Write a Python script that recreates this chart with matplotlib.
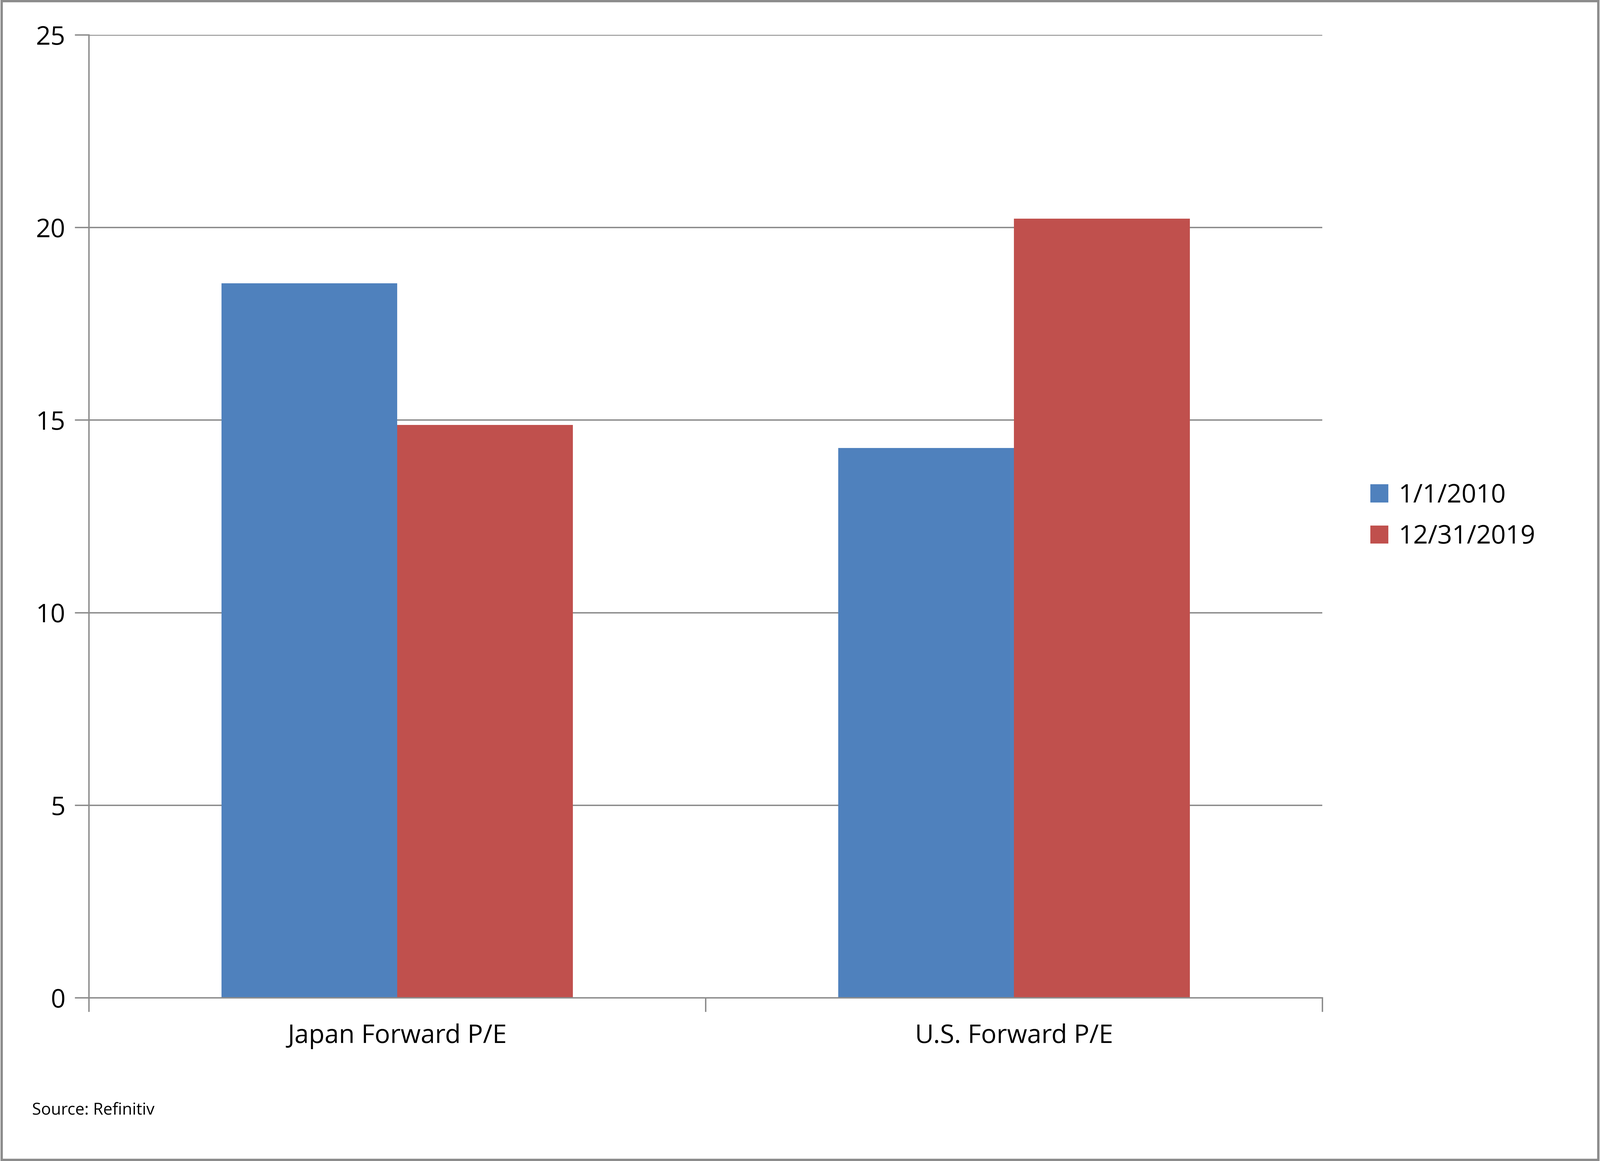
import matplotlib.pyplot as plt
from matplotlib.patches import Rectangle

categories = ["Japan Forward P/E", "U.S. Forward P/E"]
series_names = ["1/1/2010", "12/31/2019"]
values_2010 = [18.55, 14.27]
values_2019 = [14.87, 20.23]
yticks = [0, 5, 10, 15, 20, 25]

blue = "#4F81BD"
red = "#C0504D"

plt.rcParams["font.family"] = "Open Sans"

fig = plt.figure(figsize=(5692 / 300, 4131 / 300), dpi=300)
ax = fig.add_axes([0.0555, 0.1406, 0.771, 0.8294])

x = range(len(categories))
w = 0.285
ax.bar([i - w / 2 for i in x], values_2010, w, color=blue, label=series_names[0], zorder=2)
ax.bar([i + w / 2 for i in x], values_2019, w, color=red, label=series_names[1], zorder=2)

ax.set_xlim(-0.5, 1.5)
ax.set_ylim(0, 25)
ax.set_yticks(yticks)
ax.set_yticklabels([str(t) for t in yticks], fontsize=22)
ax.yaxis.grid(True, color="#8C8C8C", linewidth=1.2, zorder=0)
ax.set_axisbelow(True)

ax.set_xticks([-0.5, 0.5, 1.5])
ax.set_xticklabels([])
ax.set_xticks(list(x), minor=True)
ax.set_xticklabels(categories, minor=True, fontsize=22)
ax.tick_params(axis="x", which="minor", length=0, pad=22)
ax.tick_params(axis="x", which="major", length=12, width=1.2, color="#8C8C8C", direction="out")
ax.tick_params(axis="y", length=12, width=1.2, color="#8C8C8C", pad=8)

for s in ["top", "right"]:
    ax.spines[s].set_visible(False)
for s in ["left", "bottom"]:
    ax.spines[s].set_color("#8C8C8C")
    ax.spines[s].set_linewidth(1.2)

ax.legend(loc="center left", bbox_to_anchor=(1.02, 0.5), frameon=False, fontsize=22,
          handlelength=0.7, handleheight=0.7, handletextpad=0.4, labelspacing=0.6)

fig.text(0.02, 0.04, "Source: Refinitiv", fontsize=14)
fig.patches.append(Rectangle((0.001, 0.001), 0.998, 0.998, transform=fig.transFigure,
                             fill=False, edgecolor="#8C8C8C", linewidth=2))

fig.savefig("out.png", dpi=300)
